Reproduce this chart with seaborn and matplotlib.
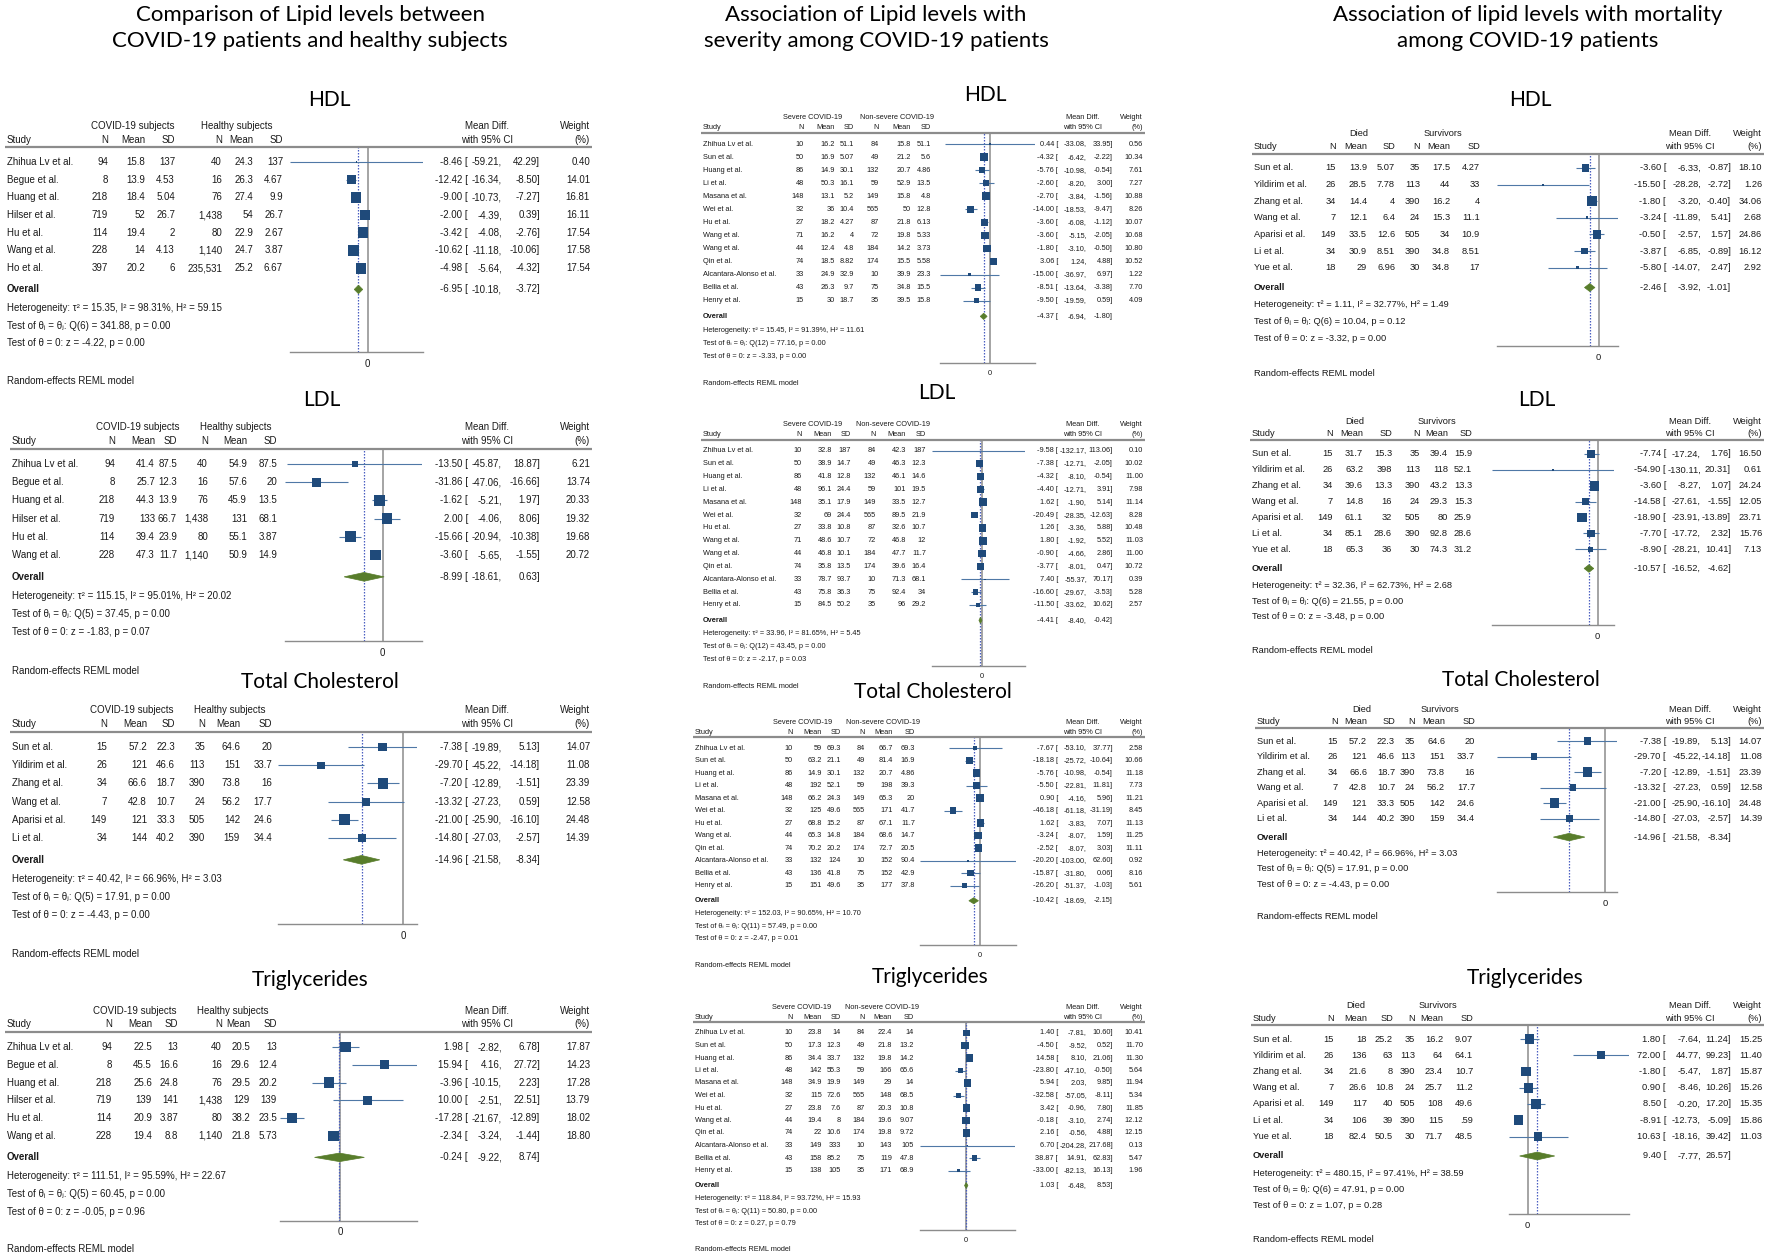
import numpy as np
import pandas as pd
import matplotlib
matplotlib.use("Agg")
import matplotlib.pyplot as plt
import matplotlib.transforms as mtransforms
from matplotlib.patches import Polygon
import seaborn as sns

# ---------------- data ----------------
# column 1: COVID-19 patients vs healthy subjects
c1_hdl_study = ["Zhihua Lv et al.", "Begue et al.", "Huang et al.", "Hilser et al.", "Hu et al.", "Wang et al.", "Ho et al."]
c1_hdl_g1 = [[94, 8, 218, 719, 114, 228, 397], [15.8, 13.9, 18.4, 52, 19.4, 14, 20.2], [137, 4.53, 5.04, 26.7, 2, 4.13, 6]]
c1_hdl_g2 = [[40, 16, 76, 1438, 80, 1140, 235531], [24.3, 26.3, 27.4, 54, 22.9, 24.7, 25.2], [137, 4.67, 9.9, 26.7, 2.67, 3.87, 6.67]]
c1_hdl_md = [-8.46, -12.42, -9.00, -2.00, -3.42, -10.62, -4.98]
c1_hdl_lo = [-59.21, -16.34, -10.73, -4.39, -4.08, -11.18, -5.64]
c1_hdl_hi = [42.29, -8.50, -7.27, 0.39, -2.76, -10.06, -4.32]
c1_hdl_w = [0.40, 14.01, 16.81, 16.11, 17.54, 17.58, 17.54]
c1_hdl_overall = [-6.95, -10.18, -3.72]
c1_hdl_stats = [15.35, 98.31, 59.15, 6, 341.88, 0.00, -4.22, 0.00]

c1_ldl_study = ["Zhihua Lv et al.", "Begue et al.", "Huang et al.", "Hilser et al.", "Hu et al.", "Wang et al."]
c1_ldl_g1 = [[94, 8, 218, 719, 114, 228], [41.4, 25.7, 44.3, 133, 39.4, 47.3], [87.5, 12.3, 13.9, 66.7, 23.9, 11.7]]
c1_ldl_g2 = [[40, 16, 76, 1438, 80, 1140], [54.9, 57.6, 45.9, 131, 55.1, 50.9], [87.5, 20, 13.5, 68.1, 3.87, 14.9]]
c1_ldl_md = [-13.50, -31.86, -1.62, 2.00, -15.66, -3.60]
c1_ldl_lo = [-45.87, -47.06, -5.21, -4.06, -20.94, -5.65]
c1_ldl_hi = [18.87, -16.66, 1.97, 8.06, -10.38, -1.55]
c1_ldl_w = [6.21, 13.74, 20.33, 19.32, 19.68, 20.72]
c1_ldl_overall = [-8.99, -18.61, 0.63]
c1_ldl_stats = [115.15, 95.01, 20.02, 5, 37.45, 0.00, -1.83, 0.07]

c1_tc_study = ["Sun et al.", "Yildirim et al.", "Zhang et al.", "Wang et al.", "Aparisi et al.", "Li et al."]
c1_tc_g1 = [[15, 26, 34, 7, 149, 34], [57.2, 121, 66.6, 42.8, 121, 144], [22.3, 46.6, 18.7, 10.7, 33.3, 40.2]]
c1_tc_g2 = [[35, 113, 390, 24, 505, 390], [64.6, 151, 73.8, 56.2, 142, 159], [20, 33.7, 16, 17.7, 24.6, 34.4]]
c1_tc_md = [-7.38, -29.70, -7.20, -13.32, -21.00, -14.80]
c1_tc_lo = [-19.89, -45.22, -12.89, -27.23, -25.90, -27.03]
c1_tc_hi = [5.13, -14.18, -1.51, 0.59, -16.10, -2.57]
c1_tc_w = [14.07, 11.08, 23.39, 12.58, 24.48, 14.39]
c1_tc_overall = [-14.96, -21.58, -8.34]
c1_tc_stats = [40.42, 66.96, 3.03, 5, 17.91, 0.00, -4.43, 0.00]

c1_tg_study = ["Zhihua Lv et al.", "Begue et al.", "Huang et al.", "Hilser et al.", "Hu et al.", "Wang et al."]
c1_tg_g1 = [[94, 8, 218, 719, 114, 228], [22.5, 45.5, 25.6, 139, 20.9, 19.4], [13, 16.6, 24.8, 141, 3.87, 8.8]]
c1_tg_g2 = [[40, 16, 76, 1438, 80, 1140], [20.5, 29.6, 29.5, 129, 38.2, 21.8], [13, 12.4, 20.2, 139, 23.5, 5.73]]
c1_tg_md = [1.98, 15.94, -3.96, 10.00, -17.28, -2.34]
c1_tg_lo = [-2.82, 4.16, -10.15, -2.51, -21.67, -3.24]
c1_tg_hi = [6.78, 27.72, 2.23, 22.51, -12.89, -1.44]
c1_tg_w = [17.87, 14.23, 17.28, 13.79, 18.02, 18.80]
c1_tg_overall = [-0.24, -9.22, 8.74]
c1_tg_stats = [111.51, 95.59, 22.67, 5, 60.45, 0.00, -0.05, 0.96]

# column 2: severe vs non-severe COVID-19
c2_study = ["Zhihua Lv et al.", "Sun et al.", "Huang et al.", "Li et al.", "Masana et al.", "Wei et al.", "Hu et al.",
            "Wang et al.", "Wang et al.", "Qin et al.", "Alcantara-Alonso et al.", "Bellia et al.", "Henry et al."]
c2_tc_study = ["Zhihua Lv et al.", "Sun et al.", "Huang et al.", "Li et al.", "Masana et al.", "Wei et al.", "Hu et al.",
               "Wang et al.", "Qin et al.", "Alcantara-Alonso et al.", "Bellia et al.", "Henry et al."]
c2_n1 = [10, 50, 86, 48, 148, 32, 27, 71, 44, 74, 33, 43, 15]
c2_n2 = [84, 49, 132, 59, 149, 565, 87, 72, 184, 174, 10, 75, 35]
c2_tc_n1 = [10, 50, 86, 48, 148, 32, 27, 44, 74, 33, 43, 15]
c2_tc_n2 = [84, 49, 132, 59, 149, 565, 87, 184, 174, 10, 75, 35]

c2_hdl_g1 = [c2_n1, [16.2, 16.9, 14.9, 50.3, 13.1, 36, 18.2, 16.2, 12.4, 18.5, 24.9, 26.3, 30],
             [51.1, 5.07, 30.1, 16.1, 5.2, 10.4, 4.27, 4, 4.8, 8.82, 32.9, 9.7, 18.7]]
c2_hdl_g2 = [c2_n2, [15.8, 21.2, 20.7, 52.9, 15.8, 50, 21.8, 19.8, 14.2, 15.5, 39.9, 34.8, 39.5],
             [51.1, 5.6, 4.86, 13.5, 4.8, 12.8, 6.13, 5.33, 3.73, 5.58, 23.3, 15.5, 15.8]]
c2_hdl_md = [0.44, -4.32, -5.76, -2.60, -2.70, -14.00, -3.60, -3.60, -1.80, 3.06, -15.00, -8.51, -9.50]
c2_hdl_lo = [-33.08, -6.42, -10.98, -8.20, -3.84, -18.53, -6.08, -5.15, -3.10, 1.24, -36.97, -13.64, -19.59]
c2_hdl_hi = [33.95, -2.22, -0.54, 3.00, -1.56, -9.47, -1.12, -2.05, -0.50, 4.88, 6.97, -3.38, 0.59]
c2_hdl_w = [0.56, 10.34, 7.61, 7.27, 10.88, 8.26, 10.07, 10.68, 10.80, 10.52, 1.22, 7.70, 4.09]
c2_hdl_overall = [-4.37, -6.94, -1.80]
c2_hdl_stats = [15.45, 91.39, 11.61, 12, 77.16, 0.00, -3.33, 0.00]

c2_ldl_g1 = [c2_n1, [32.8, 38.9, 41.8, 96.1, 35.1, 69, 33.8, 48.6, 46.8, 35.8, 78.7, 75.8, 84.5],
             [187, 14.7, 12.8, 24.4, 17.9, 24.4, 10.8, 10.7, 10.1, 13.5, 93.7, 36.3, 50.2]]
c2_ldl_g2 = [c2_n2, [42.3, 46.3, 46.1, 101, 33.5, 89.5, 32.6, 46.8, 47.7, 39.6, 71.3, 92.4, 96],
             [187, 12.3, 14.6, 19.5, 12.7, 21.9, 10.7, 12, 11.7, 16.4, 68.1, 34, 29.2]]
c2_ldl_md = [-9.58, -7.38, -4.32, -4.40, 1.62, -20.49, 1.26, 1.80, -0.90, -3.77, 7.40, -16.60, -11.50]
c2_ldl_lo = [-132.17, -12.71, -8.10, -12.71, -1.90, -28.35, -3.36, -1.92, -4.66, -8.01, -55.37, -29.67, -33.62]
c2_ldl_hi = [113.06, -2.05, -0.54, 3.91, 5.14, -12.63, 5.88, 5.52, 2.86, 0.47, 70.17, -3.53, 10.62]
c2_ldl_w = [0.10, 10.02, 11.00, 7.98, 11.14, 8.28, 10.48, 11.03, 11.00, 10.72, 0.39, 5.28, 2.57]
c2_ldl_overall = [-4.41, -8.40, -0.42]
c2_ldl_stats = [33.96, 81.65, 5.45, 12, 43.45, 0.00, -2.17, 0.03]

c2_tc_g1 = [c2_tc_n1, [59, 63.2, 14.9, 192, 66.2, 125, 68.8, 65.3, 70.2, 132, 136, 151],
            [69.3, 21.1, 30.1, 52.1, 24.3, 49.6, 15.2, 14.8, 20.2, 124, 41.8, 49.6]]
c2_tc_g2 = [c2_tc_n2, [66.7, 81.4, 20.7, 198, 65.3, 171, 67.1, 68.6, 72.7, 152, 152, 177],
            [69.3, 16.9, 4.86, 39.3, 20, 41.7, 11.7, 14.7, 20.5, 90.4, 42.9, 37.8]]
c2_tc_md = [-7.67, -18.18, -5.76, -5.50, 0.90, -46.18, 1.62, -3.24, -2.52, -20.20, -15.87, -26.20]
c2_tc_lo = [-53.10, -25.72, -10.98, -22.81, -4.16, -61.18, -3.83, -8.07, -8.07, -103.00, -31.80, -51.37]
c2_tc_hi = [37.77, -10.64, -0.54, 11.81, 5.96, -31.19, 7.07, 1.59, 3.03, 62.60, 0.06, -1.03]
c2_tc_w = [2.58, 10.66, 11.18, 7.73, 11.21, 8.45, 11.13, 11.25, 11.11, 0.92, 8.16, 5.61]
c2_tc_overall = [-10.42, -18.69, -2.15]
c2_tc_stats = [152.03, 90.65, 10.70, 11, 57.49, 0.00, -2.47, 0.01]

c2_tg_g1 = [c2_tc_n1, [23.8, 17.3, 34.4, 142, 34.9, 115, 23.8, 19.4, 22, 149, 158, 138],
            [14, 12.3, 33.7, 55.3, 19.9, 72.6, 7.6, 8, 10.6, 333, 85.2, 105]]
c2_tg_g2 = [c2_tc_n2, [22.4, 21.8, 19.8, 166, 29, 148, 20.3, 19.6, 19.8, 143, 119, 171],
            [14, 13.2, 14.2, 65.6, 14, 68.5, 10.8, 9.07, 9.72, 105, 47.8, 68.9]]
c2_tg_md = [1.40, -4.50, 14.58, -23.80, 5.94, -32.58, 3.42, -0.18, 2.16, 6.70, 38.87, -33.00]
c2_tg_lo = [-7.81, -9.52, 8.10, -47.10, 2.03, -57.05, -0.96, -3.10, -0.56, -204.28, 14.91, -82.13]
c2_tg_hi = [10.60, 0.52, 21.06, -0.50, 9.85, -8.11, 7.80, 2.74, 4.88, 217.68, 62.83, 16.13]
c2_tg_w = [10.41, 11.70, 11.30, 5.64, 11.94, 5.34, 11.85, 12.12, 12.15, 0.13, 5.47, 1.96]
c2_tg_overall = [1.03, -6.48, 8.53]
c2_tg_stats = [118.84, 93.72, 15.93, 11, 50.80, 0.00, 0.27, 0.79]

# column 3: died vs survivors
c3_study = ["Sun et al.", "Yildirim et al.", "Zhang et al.", "Wang et al.", "Aparisi et al.", "Li et al.", "Yue et al."]
c3_n1 = [15, 26, 34, 7, 149, 34, 18]
c3_n2 = [35, 113, 390, 24, 505, 390, 30]

c3_hdl_g1 = [c3_n1, [13.9, 28.5, 14.4, 12.1, 33.5, 30.9, 29], [5.07, 7.78, 4, 6.4, 12.6, 8.51, 6.96]]
c3_hdl_g2 = [c3_n2, [17.5, 44, 16.2, 15.3, 34, 34.8, 34.8], [4.27, 33, 4, 11.1, 10.9, 8.51, 17]]
c3_hdl_md = [-3.60, -15.50, -1.80, -3.24, -0.50, -3.87, -5.80]
c3_hdl_lo = [-6.33, -28.28, -3.20, -11.89, -2.57, -6.85, -14.07]
c3_hdl_hi = [-0.87, -2.72, -0.40, 5.41, 1.57, -0.89, 2.47]
c3_hdl_w = [18.10, 1.26, 34.06, 2.68, 24.86, 16.12, 2.92]
c3_hdl_overall = [-2.46, -3.92, -1.01]
c3_hdl_stats = [1.11, 32.77, 1.49, 6, 10.04, 0.12, -3.32, 0.00]

c3_ldl_g1 = [c3_n1, [31.7, 63.2, 39.6, 14.8, 61.1, 85.1, 65.3], [15.3, 398, 13.3, 16, 32, 28.6, 36]]
c3_ldl_g2 = [c3_n2, [39.4, 118, 43.2, 29.3, 80, 92.8, 74.3], [15.9, 52.1, 13.3, 15.3, 25.9, 28.6, 31.2]]
c3_ldl_md = [-7.74, -54.90, -3.60, -14.58, -18.90, -7.70, -8.90]
c3_ldl_lo = [-17.24, -130.11, -8.27, -27.61, -23.91, -17.72, -28.21]
c3_ldl_hi = [1.76, 20.31, 1.07, -1.55, -13.89, 2.32, 10.41]
c3_ldl_w = [16.50, 0.61, 24.24, 12.05, 23.71, 15.76, 7.13]
c3_ldl_overall = [-10.57, -16.52, -4.62]
c3_ldl_stats = [32.36, 62.73, 2.68, 6, 21.55, 0.00, -3.48, 0.00]

c3_tg_g1 = [c3_n1, [18, 136, 21.6, 26.6, 117, 106, 82.4], [25.2, 63, 8, 10.8, 40, 39, 50.5]]
c3_tg_g2 = [c3_n2, [16.2, 64, 23.4, 25.7, 108, 115, 71.7], [9.07, 64.1, 10.7, 11.2, 49.6, 0.59, 48.5]]
c3_tg_md = [1.80, 72.00, -1.80, 0.90, 8.50, -8.91, 10.63]
c3_tg_lo = [-7.64, 44.77, -5.47, -8.46, -0.20, -12.73, -18.16]
c3_tg_hi = [11.24, 99.23, 1.87, 10.26, 17.20, -5.09, 39.42]
c3_tg_w = [15.25, 11.40, 15.87, 15.26, 15.35, 15.86, 11.03]
c3_tg_overall = [9.40, -7.77, 26.57]
c3_tg_stats = [480.15, 97.41, 38.59, 6, 47.91, 0.00, 1.07, 0.28]

col_titles = [["Comparison of Lipid levels between", "COVID-19 patients and healthy subjects"],
              ["Association of Lipid levels with", "severity among COVID-19 patients"],
              ["Association of lipid levels with mortality", "among COVID-19 patients"]]
group_labels = [["COVID-19 subjects", "Healthy subjects"],
                ["Severe COVID-19", "Non-severe COVID-19"],
                ["Died", "Survivors"]]
panel_names = ["HDL", "LDL", "Total Cholesterol", "Triglycerides"]

panels = [
    [dict(study=c1_hdl_study, g1=c1_hdl_g1, g2=c1_hdl_g2, md=c1_hdl_md, lo=c1_hdl_lo, hi=c1_hdl_hi, w=c1_hdl_w, ov=c1_hdl_overall, st=c1_hdl_stats),
     dict(study=c1_ldl_study, g1=c1_ldl_g1, g2=c1_ldl_g2, md=c1_ldl_md, lo=c1_ldl_lo, hi=c1_ldl_hi, w=c1_ldl_w, ov=c1_ldl_overall, st=c1_ldl_stats),
     dict(study=c1_tc_study, g1=c1_tc_g1, g2=c1_tc_g2, md=c1_tc_md, lo=c1_tc_lo, hi=c1_tc_hi, w=c1_tc_w, ov=c1_tc_overall, st=c1_tc_stats),
     dict(study=c1_tg_study, g1=c1_tg_g1, g2=c1_tg_g2, md=c1_tg_md, lo=c1_tg_lo, hi=c1_tg_hi, w=c1_tg_w, ov=c1_tg_overall, st=c1_tg_stats)],
    [dict(study=c2_study, g1=c2_hdl_g1, g2=c2_hdl_g2, md=c2_hdl_md, lo=c2_hdl_lo, hi=c2_hdl_hi, w=c2_hdl_w, ov=c2_hdl_overall, st=c2_hdl_stats),
     dict(study=c2_study, g1=c2_ldl_g1, g2=c2_ldl_g2, md=c2_ldl_md, lo=c2_ldl_lo, hi=c2_ldl_hi, w=c2_ldl_w, ov=c2_ldl_overall, st=c2_ldl_stats),
     dict(study=c2_tc_study, g1=c2_tc_g1, g2=c2_tc_g2, md=c2_tc_md, lo=c2_tc_lo, hi=c2_tc_hi, w=c2_tc_w, ov=c2_tc_overall, st=c2_tc_stats),
     dict(study=c2_tc_study, g1=c2_tg_g1, g2=c2_tg_g2, md=c2_tg_md, lo=c2_tg_lo, hi=c2_tg_hi, w=c2_tg_w, ov=c2_tg_overall, st=c2_tg_stats)],
    [dict(study=c3_study, g1=c3_hdl_g1, g2=c3_hdl_g2, md=c3_hdl_md, lo=c3_hdl_lo, hi=c3_hdl_hi, w=c3_hdl_w, ov=c3_hdl_overall, st=c3_hdl_stats),
     dict(study=c3_study, g1=c3_ldl_g1, g2=c3_ldl_g2, md=c3_ldl_md, lo=c3_ldl_lo, hi=c3_ldl_hi, w=c3_ldl_w, ov=c3_ldl_overall, st=c3_ldl_stats),
     dict(study=c1_tc_study, g1=c1_tc_g1, g2=c1_tc_g2, md=c1_tc_md, lo=c1_tc_lo, hi=c1_tc_hi, w=c1_tc_w, ov=c1_tc_overall, st=c1_tc_stats),
     dict(study=c3_study, g1=c3_tg_g1, g2=c3_tg_g2, md=c3_tg_md, lo=c3_tg_lo, hi=c3_tg_hi, w=c3_tg_w, ov=c3_tg_overall, st=c3_tg_stats)],
]

# ---------------- layout (pixels) ----------------
W, H = 1772, 1257
col_heading_x = [310, 876, 1528]
col_style = [
    dict(fs=7.0, est_r=468, lo_r=502, hi_r=540, w_r=590, mdc=487),
    dict(fs=5.3, est_r=1058, lo_r=1087, hi_r=1113, w_r=1143, mdc=1083),
    dict(fs=6.7, est_r=1666, lo_r=1701, hi_r=1731, w_r=1762, mdc=1690),
]
layouts = [
    [dict(title=(329, 100), row1=162, dy=17.7, plot=(290, 423), sx=7, cols=[108, 145, 175, 222, 253, 283], g=(133, 237)),
     dict(title=(322, 400), row1=464, dy=18.2, plot=(285, 422), sx=12, cols=[115, 155, 177, 208, 247, 277], g=(138, 236)),
     dict(title=(320, 682), row1=747, dy=18.2, plot=(278, 417), sx=12, cols=[107, 147, 175, 205, 240, 272], g=(132, 230)),
     dict(title=(310, 980), row1=1047, dy=17.8, plot=(280, 417), sx=7, cols=[112, 152, 178, 222, 250, 277], g=(135, 233))],
    [dict(title=(985, 95), row1=144, dy=13.06, plot=(940, 1035), sx=703, cols=[804, 835, 854, 879, 911, 931], g=(813, 897)),
     dict(title=(937, 393), row1=451, dy=12.83, plot=(932, 1025), sx=703, cols=[802, 832, 851, 876, 906, 926], g=(813, 893)),
     dict(title=(933, 692), row1=748, dy=12.52, plot=(920, 1016), sx=695, cols=[793, 822, 841, 865, 893, 915], g=(803, 883)),
     dict(title=(930, 977), row1=1033, dy=12.5, plot=(920, 1015), sx=695, cols=[793, 822, 841, 865, 892, 914], g=(802, 882))],
    [dict(title=(1530, 100), row1=168, dy=16.6, plot=(1497, 1618), sx=1254, cols=[1336, 1367, 1395, 1420, 1450, 1480], g=(1359, 1443)),
     dict(title=(1537, 400), row1=454, dy=15.9, plot=(1492, 1614), sx=1252, cols=[1333, 1363, 1392, 1420, 1448, 1472], g=(1355, 1437)),
     dict(title=(1521, 680), row1=741, dy=15.5, plot=(1497, 1617), sx=1257, cols=[1338, 1367, 1395, 1415, 1445, 1475], g=(1362, 1440)),
     dict(title=(1525, 978), row1=1039, dy=16.25, plot=(1509, 1629), sx=1253, cols=[1334, 1367, 1393, 1415, 1443, 1473], g=(1356, 1438))],
]

SQ = "#1f4a7a"
CI = "#4f78a6"
DIAM = "#587d2b"
ZERO = "#8c8c8c"
OVL = "#4a5fc1"
TXT = "#1a1a1a"
RULE = "#8c8c8c"

sns.set_style("white")
plt.rcParams["font.family"] = ["Liberation Sans", "DejaVu Sans"]
TITLE_FONT = ["Lato", "DejaVu Sans"]


def cell(v):
    if float(v).is_integer():
        return f"{int(v):,}"
    s = f"{v:g}"
    if s.startswith("0."):
        s = s[1:]
    return s


fig = plt.figure(figsize=(W / 100, H / 100), dpi=100)
fig.patch.set_facecolor("white")


def draw_panel(p, lay, cs, groups, name):
    n = len(p["study"])
    fs = cs["fs"]
    row1, dy = lay["row1"], lay["dy"]
    top_r, bot_r = -0.85, n + 3.75
    top_px = row1 + top_r * dy
    bot_px = row1 + bot_r * dy
    x0, x1 = lay["plot"]
    ax = fig.add_axes([x0 / W, 1 - bot_px / H, (x1 - x0) / W, (bot_px - top_px) / H])
    ax.patch.set_alpha(0)

    rows = np.arange(n)
    df = pd.DataFrame({"md": p["md"], "row": rows, "w": p["w"]})
    side_pt = 0.6 * dy * 0.72
    ax.hlines(rows, p["lo"], p["hi"], color=CI, lw=0.8, zorder=2)
    sns.scatterplot(data=df, x="md", y="row", size="w", sizes=(0, side_pt ** 2),
                    size_norm=(0, max(p["w"])), marker="s", color=SQ, linewidth=0,
                    legend=False, ax=ax, zorder=3)
    est, olo, ohi = p["ov"]
    yo = n + 0.2
    h = 0.24
    ax.add_patch(Polygon([(olo, yo), (est, yo - h), (ohi, yo), (est, yo + h)],
                         closed=True, facecolor=DIAM, edgecolor=DIAM, lw=0.5, zorder=3))
    ax.axvline(0, color=ZERO, lw=1.1, zorder=1)
    ax.axvline(est, color=OVL, lw=0.9, ls=(0, (1.2, 1.2)), zorder=1)

    ax.set_xlim(min(p["lo"]), max(p["hi"]))
    ax.set_ylim(bot_r, top_r)
    ax.set_xlabel("")
    ax.set_ylabel("")
    for s in ["top", "right", "left"]:
        ax.spines[s].set_visible(False)
    ax.spines["bottom"].set_color(ZERO)
    ax.spines["bottom"].set_linewidth(1.0)
    ax.set_yticks([])
    ax.set_xticks([0])
    ax.set_xticklabels(["0"])
    ax.tick_params(axis="x", length=3, width=0.8, color=ZERO, labelsize=fs, pad=2, labelcolor=TXT)

    tr = mtransforms.blended_transform_factory(fig.transFigure, ax.transData)

    def t(xpx, y, s, ha="right", **kw):
        ax.text(xpx / W, y, s, transform=tr, ha=ha, va="center", fontsize=fs, color=TXT, **kw)

    # header
    sx = lay["sx"]
    cols = lay["cols"]
    t(lay["g"][0], -2.05, groups[0], ha="center")
    t(lay["g"][1], -2.05, groups[1], ha="center")
    t(sx, -1.27, "Study", ha="left")
    for xr, lab in zip(cols, ["N", "Mean", "SD", "N", "Mean", "SD"]):
        t(xr, -1.27, lab)
    t(cs["mdc"], -2.05, "Mean Diff.", ha="center")
    t(cs["mdc"], -1.27, "with 95% CI", ha="center")
    t(cs["w_r"], -2.05, "Weight")
    t(cs["w_r"], -1.27, "(%)")
    ax.plot([(sx - 2) / W, (cs["w_r"] + 2) / W], [top_r, top_r], transform=tr,
            color=RULE, lw=1.6, clip_on=False, solid_capstyle="butt")

    # study rows
    table = p["g1"] + p["g2"]
    for i in range(n):
        t(sx, i, p["study"][i], ha="left")
        for xr, colvals in zip(cols, table):
            t(xr, i, cell(colvals[i]))
        t(cs["est_r"], i, f"{p['md'][i]:.2f} [")
        t(cs["lo_r"], i, f"{p['lo'][i]:.2f},")
        t(cs["hi_r"], i, f"{p['hi'][i]:.2f}]")
        t(cs["w_r"], i, f"{p['w'][i]:.2f}")

    # overall + statistics
    t(sx, yo, "Overall", ha="left", fontweight="bold")
    t(cs["est_r"], yo, f"{est:.2f} [")
    t(cs["lo_r"], yo, f"{olo:.2f},")
    t(cs["hi_r"], yo, f"{ohi:.2f}]")
    tau2, i2, h2, dfq, q, pq, z, pz = p["st"]
    t(sx, n + 1.25, f"Heterogeneity: τ² = {tau2:.2f}, I² = {i2:.2f}%, H² = {h2:.2f}", ha="left")
    t(sx, n + 2.25, f"Test of θᵢ = θⱼ: Q({dfq}) = {q:.2f}, p = {pq:.2f}", ha="left")
    t(sx, n + 3.25, f"Test of θ = 0: z = {z:.2f}, p = {pz:.2f}", ha="left")
    t(sx, bot_r + 1.6, "Random-effects REML model", ha="left")

    tx, ty = lay["title"]
    fig.text(tx / W, 1 - ty / H, name, ha="center", va="center", fontsize=15,
             family=TITLE_FONT, color="black")


for c in range(3):
    fig.text(col_heading_x[c] / W, 1 - 15 / H, col_titles[c][0], ha="center", va="center",
             fontsize=16, family=TITLE_FONT, color="black")
    fig.text(col_heading_x[c] / W, 1 - 41 / H, col_titles[c][1], ha="center", va="center",
             fontsize=16, family=TITLE_FONT, color="black")
    for r in range(4):
        draw_panel(panels[c][r], layouts[c][r], col_style[c], group_labels[c], panel_names[r])

fig.savefig("out.png", dpi=100, facecolor="white")
